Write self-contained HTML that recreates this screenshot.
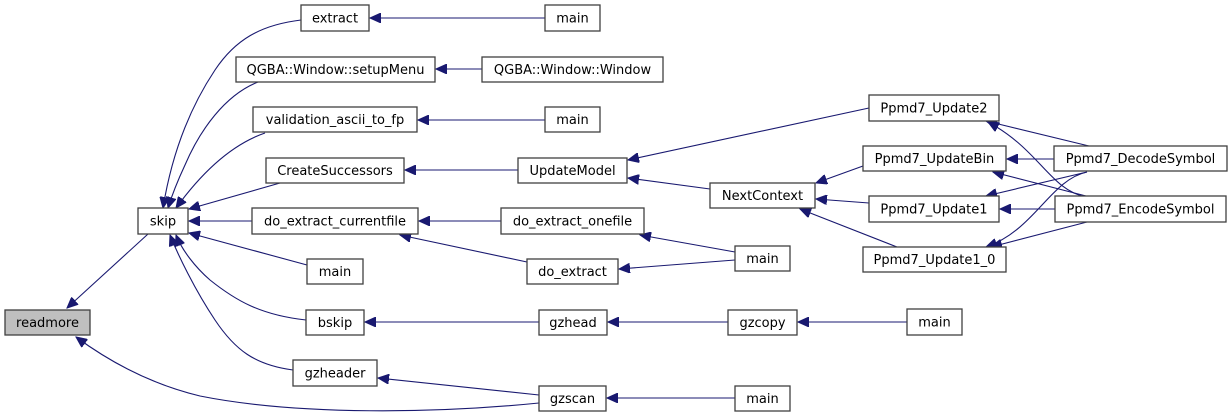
<!DOCTYPE html>
<html><head><meta charset="utf-8"><style>
html,body{margin:0;padding:0;background:#fff;}
svg{display:block;}
text{font-family:"DejaVu Sans","Liberation Sans",sans-serif;font-size:13px;fill:#000;}
rect{fill:#fff;stroke:#404040;stroke-width:1.3;}
path{fill:none;stroke:#191970;stroke-width:1.1;}
</style></head><body>
<svg width="1232" height="417" viewBox="0 0 1232 417" xmlns="http://www.w3.org/2000/svg">
<defs><marker id="a" markerWidth="12" markerHeight="10" refX="11" refY="5" orient="auto" markerUnits="userSpaceOnUse"><path d="M0,0 L11,5 L0,10 Z" style="fill:#191970;stroke:#191970;stroke-width:1"/></marker></defs>
<g marker-end="url(#a)">
<path d="M148,234 L67,308"/>
<path d="M539,403 C440,413 300,416 200,396 C150,384 110,362 76,337"/>
<path d="M301,20 C260,25 235,40 215,70 C185,115 170,165 163,208"/>
<path d="M258,82 C225,95 200,130 185,165 C178,180 172,195 168,208"/>
<path d="M265,133 C230,145 200,175 176,208"/>
<path d="M280,183 L189,209"/>
<path d="M252,221 L189,221"/>
<path d="M307,265 L189,233"/>
<path d="M306,320 C260,315 235,300 210,280 C195,267 182,250 176,235"/>
<path d="M293,370 C255,365 235,350 215,320 C195,290 178,255 170,235"/>
<path d="M545,18 L370,18"/>
<path d="M482,69 L436,69"/>
<path d="M545,120 L418,120"/>
<path d="M518,170 L405,170"/>
<path d="M869,108 L628,160"/>
<path d="M710,189 L628,178"/>
<path d="M863,166 L816,183"/>
<path d="M869,203 L816,199"/>
<path d="M897,247 L800,209"/>
<path d="M1089,146 L986,121"/>
<path d="M1086,197 C1050,190 1040,150 988,122"/>
<path d="M1054,159 L1007,159"/>
<path d="M1086,196 L993,172"/>
<path d="M1087,172 L986,196"/>
<path d="M1055,209 L1000,209"/>
<path d="M1087,172 C1050,180 1035,230 986,247"/>
<path d="M1087,222 L991,247"/>
<path d="M501,221 L419,221"/>
<path d="M527,262 L400,235"/>
<path d="M735,252 L640,235"/>
<path d="M735,260 L619,269"/>
<path d="M539,322 L365,322"/>
<path d="M728,322 L608,322"/>
<path d="M907,322 L798,322"/>
<path d="M539,395 L378,378"/>
<path d="M735,398 L607,398"/>
</g>
<rect x="5" y="310" width="85" height="25" style="fill:#bfbfbf"/><text x="47.5" y="327" text-anchor="middle">readmore</text>
<rect x="138" y="208" width="50" height="26"/><text x="163" y="225.5" text-anchor="middle">skip</text>
<rect x="301" y="5" width="68" height="26"/><text x="335" y="22.5" text-anchor="middle">extract</text>
<rect x="236" y="57" width="199" height="25"/><text x="335.5" y="74" text-anchor="middle">QGBA::Window::setupMenu</text>
<rect x="253" y="107" width="164" height="25"/><text x="335" y="124" text-anchor="middle">validation_ascii_to_fp</text>
<rect x="266" y="158" width="138" height="25"/><text x="335" y="175" text-anchor="middle">CreateSuccessors</text>
<rect x="252" y="208" width="166" height="26"/><text x="335" y="225.5" text-anchor="middle">do_extract_currentfile</text>
<rect x="307" y="259" width="56" height="25"/><text x="335" y="276" text-anchor="middle">main</text>
<rect x="306" y="310" width="58" height="25"/><text x="335" y="327" text-anchor="middle">bskip</text>
<rect x="293" y="360" width="84" height="26"/><text x="335" y="377.5" text-anchor="middle">gzheader</text>
<rect x="545" y="5" width="55" height="26"/><text x="572.5" y="22.5" text-anchor="middle">main</text>
<rect x="482" y="57" width="181" height="25"/><text x="572.5" y="74" text-anchor="middle">QGBA::Window::Window</text>
<rect x="545" y="107" width="55" height="25"/><text x="572.5" y="124" text-anchor="middle">main</text>
<rect x="518" y="158" width="109" height="25"/><text x="572.5" y="175" text-anchor="middle">UpdateModel</text>
<rect x="501" y="208" width="143" height="26"/><text x="572.5" y="225.5" text-anchor="middle">do_extract_onefile</text>
<rect x="527" y="259" width="91" height="25"/><text x="572.5" y="276" text-anchor="middle">do_extract</text>
<rect x="539" y="310" width="68" height="25"/><text x="573" y="327" text-anchor="middle">gzhead</text>
<rect x="539" y="386" width="67" height="25"/><text x="572.5" y="403" text-anchor="middle">gzscan</text>
<rect x="710" y="183" width="105" height="25"/><text x="762.5" y="200" text-anchor="middle">NextContext</text>
<rect x="735" y="246" width="55" height="25"/><text x="762.5" y="263" text-anchor="middle">main</text>
<rect x="728" y="310" width="69" height="25"/><text x="762.5" y="327" text-anchor="middle">gzcopy</text>
<rect x="735" y="386" width="55" height="25"/><text x="762.5" y="403" text-anchor="middle">main</text>
<rect x="907" y="309" width="55" height="26"/><text x="934.5" y="326.5" text-anchor="middle">main</text>
<rect x="869" y="95" width="130" height="26"/><text x="934" y="112.5" text-anchor="middle">Ppmd7_Update2</text>
<rect x="863" y="146" width="143" height="25"/><text x="934.5" y="163" text-anchor="middle">Ppmd7_UpdateBin</text>
<rect x="869" y="196" width="130" height="26"/><text x="934" y="213.5" text-anchor="middle">Ppmd7_Update1</text>
<rect x="863" y="247" width="143" height="25"/><text x="934.5" y="264" text-anchor="middle">Ppmd7_Update1_0</text>
<rect x="1054" y="146" width="173" height="25"/><text x="1140.5" y="163" text-anchor="middle">Ppmd7_DecodeSymbol</text>
<rect x="1055" y="196" width="171" height="26"/><text x="1140.5" y="213.5" text-anchor="middle">Ppmd7_EncodeSymbol</text>
</svg>
</body></html>
